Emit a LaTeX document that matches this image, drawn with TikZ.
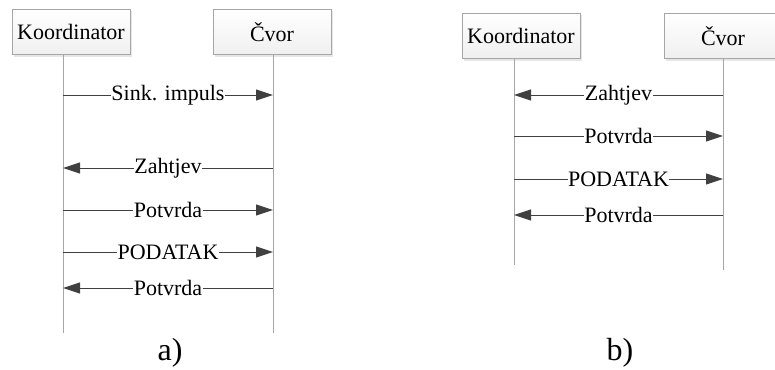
\documentclass[tikz,border=0pt]{standalone}
\usepackage{fontspec}
\setmainfont{Liberation Serif}
\usetikzlibrary{arrows.meta, shadows}

\tikzset{
	actor/.style = {draw = gray!70, top color = white, bottom color = gray!12,
		minimum width = 118pt, minimum height = 45pt, inner sep = 0pt,
		drop shadow = {opacity = 0.2, shadow xshift = 2pt, shadow yshift = -2pt},
		font = \fontsize{22}{26}\selectfont},
	lifeline/.style = {draw = gray!70, line width = 0.8pt},
	msg/.style = {draw = black!75, line width = 1pt, -{Triangle[length = 17pt, width = 11pt]}},
	lbl/.style = {fill = white, inner sep = 0.5pt, font = \fontsize{22}{26}\selectfont},
	caption/.style = {font = \fontsize{32}{36}\selectfont}
}

\begin{document}
\begin{tikzpicture}[x = 1pt, y = -1pt]
	\useasboundingbox (0, 0) rectangle (775, 369);
	
	% a)
	\node[actor] (koordA) at (71, 32) {Koordinator};
	\node[actor] (cvorA) at (272, 32) {Čvor};
	\coordinate (kAt) at (63, 55);
	\coordinate (kAb) at (63, 333);
	\coordinate (cAt) at (273, 55);
	\coordinate (cAb) at (273, 333);
	\draw[lifeline] (kAt) -- (kAb);
	\draw[lifeline] (cAt) -- (cAb);
	
	\coordinate (kA1) at (63, 95);   \coordinate (cA1) at (273, 95);
	\coordinate (kA2) at (63, 168);  \coordinate (cA2) at (273, 168);
	\coordinate (kA3) at (63, 210);  \coordinate (cA3) at (273, 210);
	\coordinate (kA4) at (63, 252);  \coordinate (cA4) at (273, 252);
	\coordinate (kA5) at (63, 288);  \coordinate (cA5) at (273, 288);
	\draw[msg] (kA1) -- node[lbl]{Sink. impuls} (cA1);
	\draw[msg] (cA2) -- node[lbl]{Zahtjev} (kA2);
	\draw[msg] (kA3) -- node[lbl]{Potvrda} (cA3);
	\draw[msg] (kA4) -- node[lbl]{PODATAK} (cA4);
	\draw[msg] (cA5) -- node[lbl]{Potvrda} (kA5);
	\node[caption] (capA) at (170, 353) {a)};
	
	% b)
	\node[actor] (koordB) at (521, 36) {Koordinator};
	\node[actor] (cvorB) at (723, 36) {Čvor};
	\coordinate (kBt) at (514, 59);
	\coordinate (kBb) at (514, 265);
	\coordinate (cBt) at (723, 59);
	\coordinate (cBb) at (723, 270);
	\draw[lifeline] (kBt) -- (kBb);
	\draw[lifeline] (cBt) -- (cBb);
	
	\coordinate (kB1) at (514, 95);   \coordinate (cB1) at (723, 95);
	\coordinate (kB2) at (514, 136);  \coordinate (cB2) at (723, 136);
	\coordinate (kB3) at (514, 179);  \coordinate (cB3) at (723, 179);
	\coordinate (kB4) at (514, 215);  \coordinate (cB4) at (723, 215);
	\draw[msg] (cB1) -- node[lbl]{Zahtjev} (kB1);
	\draw[msg] (kB2) -- node[lbl]{Potvrda} (cB2);
	\draw[msg] (kB3) -- node[lbl]{PODATAK} (cB3);
	\draw[msg] (cB4) -- node[lbl]{Potvrda} (kB4);
	\node[caption] (capB) at (620, 353) {b)};
\end{tikzpicture}
\end{document}
